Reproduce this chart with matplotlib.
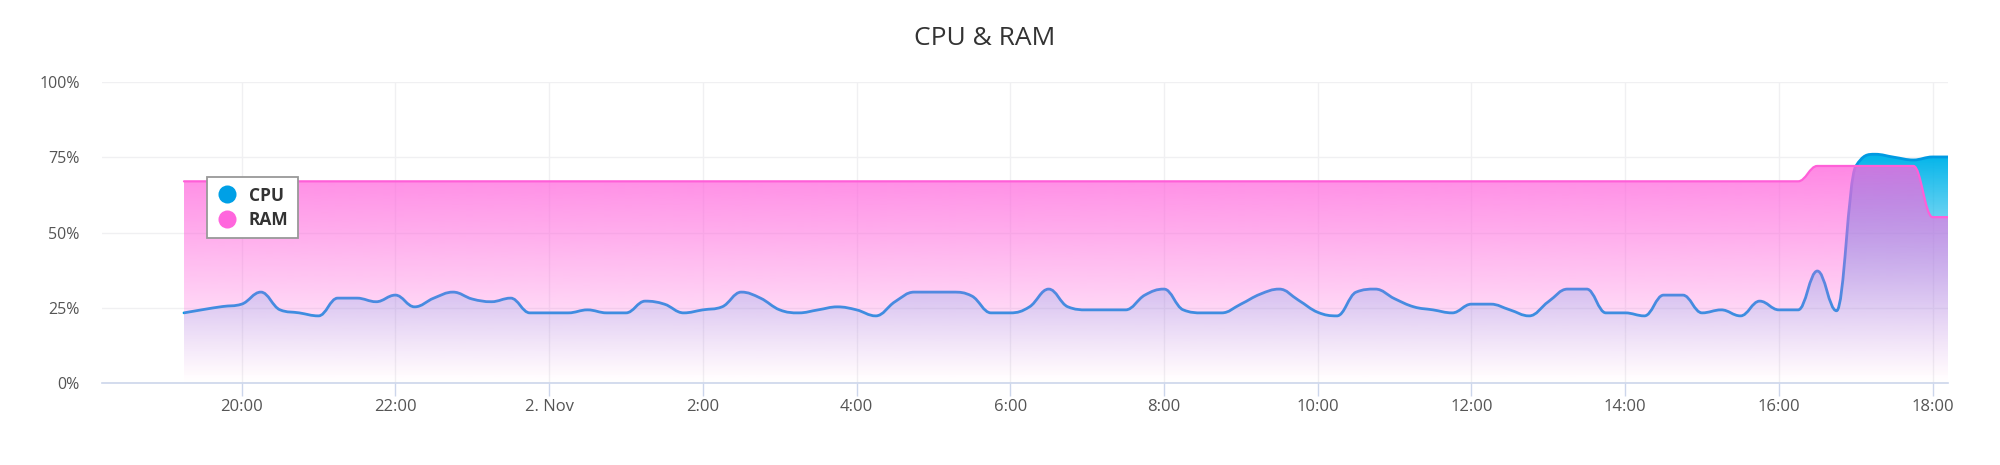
import numpy as np
import pandas as pd
import matplotlib
matplotlib.use("Agg")
import matplotlib.pyplot as plt
import matplotlib.dates as mdates
from matplotlib.path import Path
from matplotlib.patches import PathPatch
from matplotlib.lines import Line2D
from matplotlib.colors import to_rgb

plt.rcParams["font.family"] = ["Open Sans", "DejaVu Sans"]

# 15-minute samples, 1 Nov 19:15 -> 2 Nov 18:15
times = pd.date_range("2023-11-01 19:15", periods=93, freq="15min")

cpu = [
    23.3, 24.4, 25.4,                  # 19
    26.2, 30.2, 24.3, 23.3,            # 20
    22.3, 28.2, 28.2, 27.0,            # 21
    29.2, 25.3, 28.2, 30.2,            # 22
    27.9, 27.0, 28.2, 23.3,            # 23
    23.3, 23.3, 24.3, 23.3,            # 0
    23.3, 27.2, 26.2, 23.3,            # 1
    24.3, 25.3, 30.2, 28.2,            # 2
    24.3, 23.3, 24.3, 25.3,            # 3
    24.3, 22.3, 27.0, 30.2,            # 4
    30.2, 30.2, 28.9, 23.3,            # 5
    23.3, 25.3, 31.2, 25.3,            # 6
    24.3, 24.3, 24.3, 29.2,            # 7
    31.2, 24.3, 23.3, 23.3,            # 8
    26.2, 29.5, 31.2, 27.5,            # 9
    23.5, 22.3, 30.2, 31.2,            # 10
    28.0, 25.3, 24.3, 23.3,            # 11
    26.2, 26.2, 24.3, 22.3,            # 12
    27.0, 31.2, 31.2, 23.3,            # 13
    23.3, 22.3, 29.2, 29.2,            # 14
    23.3, 24.3, 22.3, 27.2,            # 15
    24.3, 24.3, 37.2, 24.0,            # 16
    72.0, 76.0, 75.0, 74.1,            # 17
    75.1, 75.1,                        # 18
]

ram = [
    67.0, 67.0, 67.0,                  # 19
    67.0, 67.0, 67.0, 67.0,            # 20
    67.0, 67.0, 67.0, 67.0,            # 21
    67.0, 67.0, 67.0, 67.0,            # 22
    67.0, 67.0, 67.0, 67.0,            # 23
    67.0, 67.0, 67.0, 67.0,            # 0
    67.0, 67.0, 67.0, 67.0,            # 1
    67.0, 67.0, 67.0, 67.0,            # 2
    67.0, 67.0, 67.0, 67.0,            # 3
    67.0, 67.0, 67.0, 67.0,            # 4
    67.0, 67.0, 67.0, 67.0,            # 5
    67.0, 67.0, 67.0, 67.0,            # 6
    67.0, 67.0, 67.0, 67.0,            # 7
    67.0, 67.0, 67.0, 67.0,            # 8
    67.0, 67.0, 67.0, 67.0,            # 9
    67.0, 67.0, 67.0, 67.0,            # 10
    67.0, 67.0, 67.0, 67.0,            # 11
    67.0, 67.0, 67.0, 67.0,            # 12
    67.0, 67.0, 67.0, 67.0,            # 13
    67.0, 67.0, 67.0, 67.0,            # 14
    67.0, 67.0, 67.0, 67.0,            # 15
    67.0, 67.0, 72.1, 72.1,            # 16
    72.1, 72.1, 72.1, 72.1,            # 17
    55.1, 55.1,                        # 18
]

series = ["CPU", "RAM"]
line_colors = {"CPU": "#009ae2", "RAM": "#ff5fd8"}
fill_colors = {"CPU": "#00b4ea", "RAM": "#ff66dd"}
marker_colors = {"CPU": "#00a0e6", "RAM": "#ff66dd"}
fill_top_alpha = {"CPU": 1.0, "RAM": 0.78}
fill_gamma = {"CPU": 1.6, "RAM": 1.0}


def spline(xs, ys, smoothing=1.5):
    """highcharts-style spline -> bezier verts/codes through the points"""
    n = len(xs)
    denom = smoothing + 1
    left, right = [None] * n, [None] * n
    for i in range(1, n - 1):
        px, py = xs[i], ys[i]
        lx, ly = xs[i - 1], ys[i - 1]
        nx, ny = xs[i + 1], ys[i + 1]
        lcx, lcy = (smoothing * px + lx) / denom, (smoothing * py + ly) / denom
        rcx, rcy = (smoothing * px + nx) / denom, (smoothing * py + ny) / denom
        if rcx != lcx:
            corr = (rcy - lcy) * (rcx - px) / (rcx - lcx) + py - rcy
            lcy += corr; rcy += corr
        if lcy > ly and lcy > py:
            lcy = max(ly, py); rcy = 2 * py - lcy
        elif lcy < ly and lcy < py:
            lcy = min(ly, py); rcy = 2 * py - lcy
        if rcy > ny and rcy > py:
            rcy = max(ny, py); lcy = 2 * py - rcy
        elif rcy < ny and rcy < py:
            rcy = min(ny, py); lcy = 2 * py - rcy
        left[i], right[i] = (lcx, lcy), (rcx, rcy)
    verts, codes = [(xs[0], ys[0])], [Path.MOVETO]
    for i in range(1, n):
        verts += [right[i - 1] or (xs[i - 1], ys[i - 1]), left[i] or (xs[i], ys[i]), (xs[i], ys[i])]
        codes += [Path.CURVE4] * 3
    return verts, codes


fig = plt.figure(figsize=(20, 4.65), dpi=100)
ax = fig.add_axes([102 / 2000, 1 - 383 / 465, (1948 - 102) / 2000, (383 - 82) / 465])

xs = mdates.date2num(times.to_pydatetime())
data = {"CPU": cpu, "RAM": ram}
for k, name in enumerate(series):
    ys = np.asarray(data[name], dtype=float)
    verts, codes = spline(xs, ys)
    # area under the curve, filled with a vertical alpha gradient
    fv = [(xs[0], 0)] + verts + [(xs[-1], 0), (xs[0], 0)]
    fc = [Path.MOVETO, Path.LINETO] + codes[1:] + [Path.LINETO, Path.CLOSEPOLY]
    patch = PathPatch(Path(fv, fc), transform=ax.transData, fc="none", ec="none")
    ax.add_patch(patch)
    grad = np.zeros((256, 1, 4))
    grad[:, 0, :3] = to_rgb(fill_colors[name])
    grad[:, 0, 3] = fill_top_alpha[name] * np.linspace(0, 1, 256) ** fill_gamma[name]
    im = ax.imshow(grad, extent=[xs[0], xs[-1], 0, ys.max()], origin="lower",
                   aspect="auto", interpolation="bilinear", zorder=2 + 2 * k)
    im.set_clip_path(patch)
    ax.add_patch(PathPatch(Path(verts, codes), transform=ax.transData, fc="none",
                           ec=line_colors[name], lw=2.0 if name == "CPU" else 1.6,
                           capstyle="round", joinstyle="round", zorder=3 + 2 * k))

ax.set_xlim(mdates.date2num(pd.Timestamp("2023-11-01 18:11")),
            mdates.date2num(pd.Timestamp("2023-11-02 18:12")))
ax.set_ylim(0, 100)
ax.set_yticks([0, 25, 50, 75, 100])
ax.set_yticklabels(["0%", "25%", "50%", "75%", "100%"])


def fmt(x, pos=None):
    d = mdates.num2date(x)
    if d.hour == 0:
        return f"{d.day}. {d:%b}"
    return f"{d.hour}:{d:%M}"


ax.xaxis.set_major_locator(mdates.HourLocator(byhour=range(0, 24, 2)))
ax.xaxis.set_major_formatter(plt.FuncFormatter(fmt))
ax.grid(True, color="#f0f0f2", lw=1.0, zorder=0)
ax.set_axisbelow(True)
for s in ["top", "right", "left"]:
    ax.spines[s].set_visible(False)
ax.spines["bottom"].set_color("#ccd6eb")
ax.spines["bottom"].set_linewidth(1.2)
ax.spines["bottom"].set_zorder(10)
ax.tick_params(axis="y", length=0, pad=16, labelsize=11.5, labelcolor="#555555")
ax.tick_params(axis="x", length=9.5, width=1.0, color="#ccd6eb", pad=2,
               labelsize=12, labelcolor="#555555")

fig.text(0.4925, 1 - 38 / 465, "CPU & RAM", ha="center", va="center",
         fontsize=19, color="#333333")

handles = [Line2D([], [], marker="o", ls="none", markersize=13,
                  markerfacecolor=marker_colors[n], markeredgecolor="none") for n in series]
leg = ax.legend(handles, series, loc="upper left",
                bbox_to_anchor=(207 / 2000, 1 - 177 / 465), bbox_transform=fig.transFigure,
                prop={"weight": "bold", "size": 12.5}, labelcolor="#333333",
                frameon=True, fancybox=False, framealpha=1, edgecolor="#999999",
                borderpad=0.55, handlelength=1.15, handletextpad=0.7, labelspacing=0.35,
                borderaxespad=0)
leg.get_frame().set_linewidth(1.3)
leg.set_zorder(20)

fig.savefig("out.png", dpi=100)
